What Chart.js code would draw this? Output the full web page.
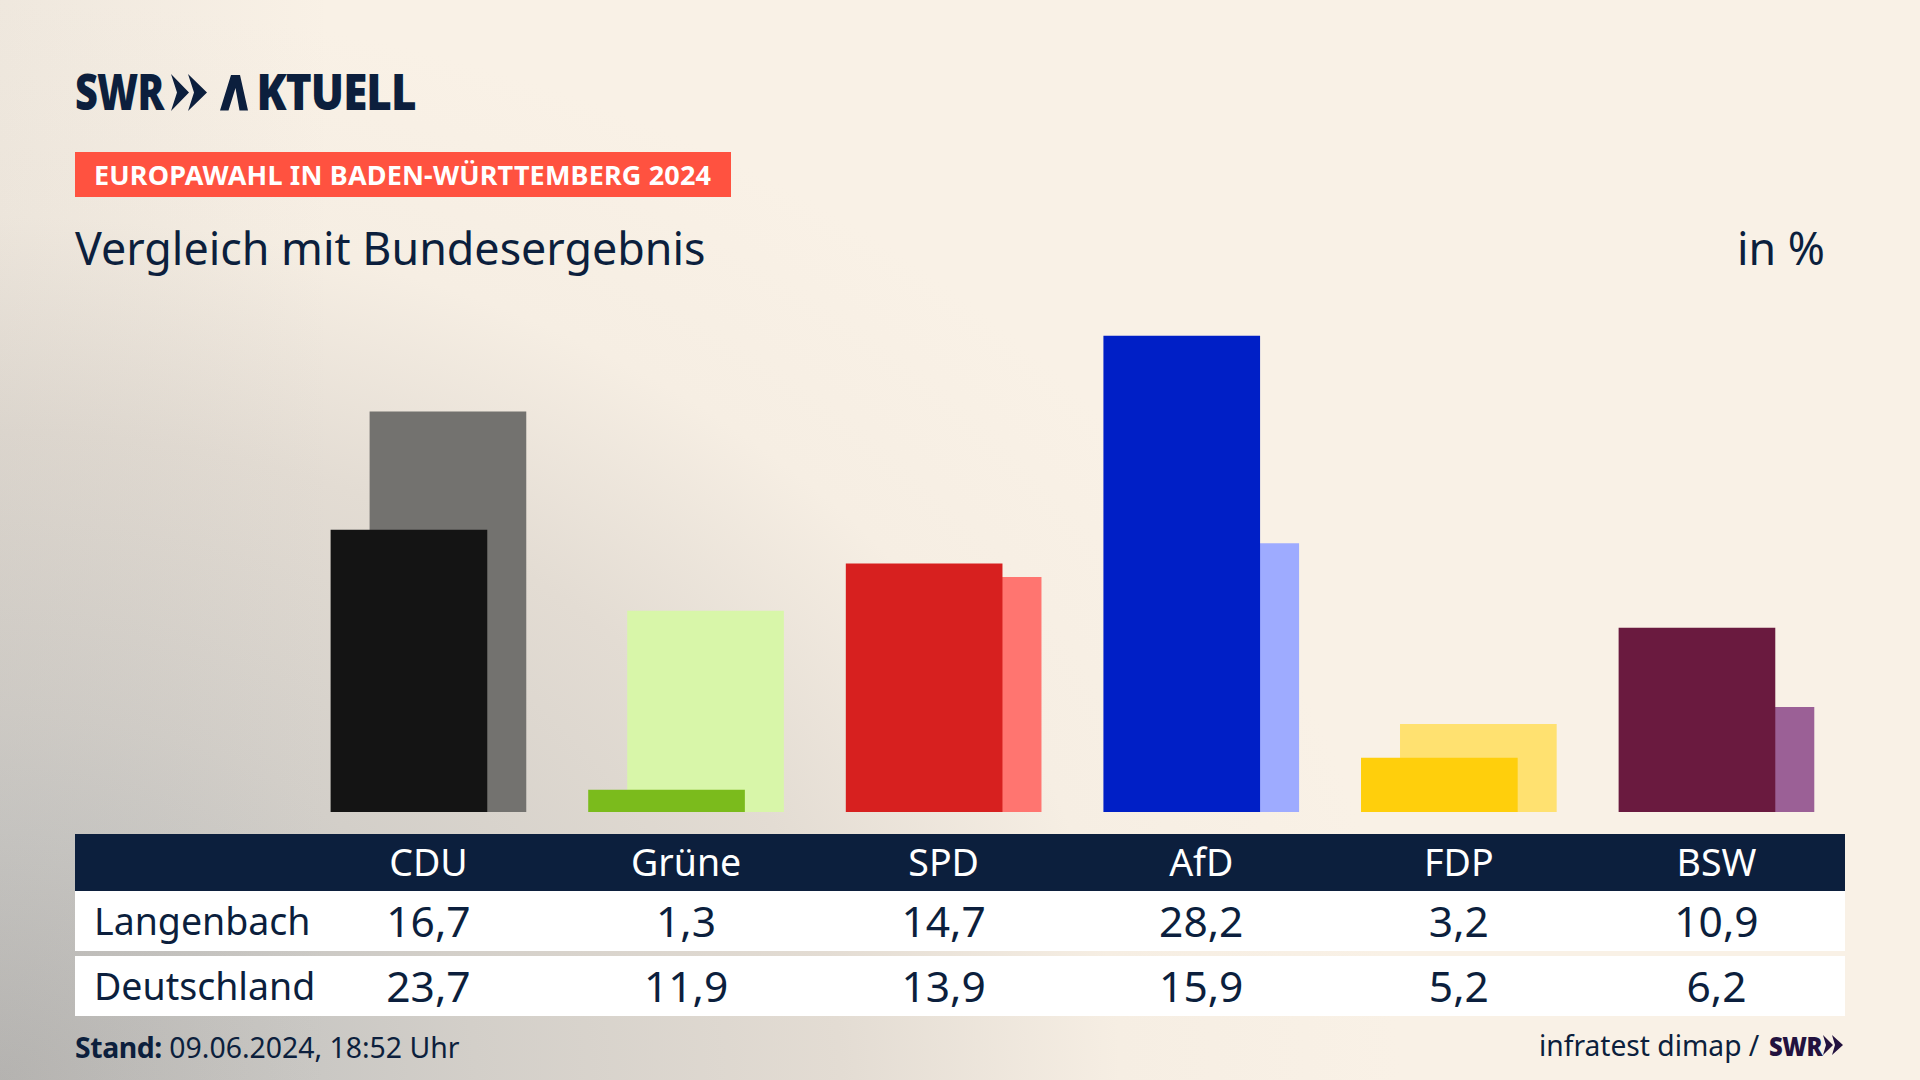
<!DOCTYPE html>
<html lang="de">
<head>
<meta charset="utf-8">
<title>Europawahl in Baden-Württemberg 2024</title>
<script src="https://cdn.jsdelivr.net/npm/chart.js@4"></script>
<style>
  html, body { margin: 0; padding: 0; }
  body {
    position: relative;
    width: 1920px;
    height: 1080px;
    overflow: hidden;
    color: #0c1f3d;
    font-family: "Noto Sans", sans-serif;
    background:
      linear-gradient(90deg, rgba(150,150,150,0.1) 0, rgba(150,150,150,0) 330px),
      radial-gradient(ellipse 1400px 1080px at 0 1080px, #b8b6b3 0%, #cac8c4 23%, #d3cfc9 34%, #e3dcd3 60%, #f6eee3 80%, #f9f1e6 100%);
    background-color: #f9f1e6;
  }
  .abs { position: absolute; white-space: nowrap; }
  #logo-swr, #logo-aktuell { font: 800 49px "Open Sans", sans-serif; transform-origin: left top; }
  #logo-swr { left: 75px; top: 58px; transform: scaleX(0.81); letter-spacing: -1px; }
  #logo-aktuell { left: 220px; top: 58px; transform: scaleX(0.897); letter-spacing: -1px; }
  #logo-a { color: transparent; margin-right: 6px; }
  #tag { left: 75px; top: 152px; width: 656px; height: 45px; background: #ff5240; }
  #tag span { position: absolute; left: 19px; top: 5px; font: 700 27px/36px "Noto Sans", sans-serif; color: #fff; letter-spacing: 0.16px; }
  #title { left: 75px; top: 218px; font-size: 44.8px; line-height: 60px; }
  #unit { right: 95px; top: 218px; font-size: 44.7px; line-height: 60px; }
  #chart-box { position: absolute; left: 75px; top: 300px; width: 1770px; height: 512px; }
  #table { position: absolute; left: 75px; top: 834px; width: 1770px; }
  .row { display: grid; grid-template-columns: 224.7px repeat(6, 257.6px); background: #fff; }
  .row div { text-align: center; }
  .row div:first-child { text-align: left; padding-left: 19px; font-size: 37.5px; }
  #head { background: #0c1f3d; color: #fff; height: 57px; line-height: 55px; font-size: 37.5px; }
  #row-l { height: 60px; line-height: 60px; font-size: 42.5px; }
  #row-d { height: 60px; line-height: 60px; font-size: 42.5px; margin-top: 5px; }
  #stand { left: 75px; top: 1027px; font-size: 28.4px; line-height: 40px; }
  #stand b { letter-spacing: -0.4px; }
  #source { left: 1539px; top: 1025px; font-size: 28.2px; line-height: 40px; }
  #small-swr { left: 1769px; top: 1028px; font: 800 27px/36px "Open Sans", sans-serif; color: #23123f; transform-origin: left top; transform: scaleX(0.88); letter-spacing: -0.5px; }
</style>
</head>
<body>
<div class="abs" id="logo-swr">SWR</div>
<svg class="abs" style="left:171px;top:74px" width="38" height="38" viewBox="0 0 38 38" fill="#0c1f3d">
  <polygon points="0,0 18,18.5 0,37 6,18.5"/>
  <polygon points="17,0 36,18.5 17,37 23,18.5"/>
</svg>
<div class="abs" id="logo-aktuell"><span id="logo-a">A</span>KTUELL</div>
<svg class="abs" style="left:220px;top:75px" width="28" height="36" viewBox="0 0 28 36" fill="#0c1f3d">
  <polygon points="0,35.5 11,0 20,0 28,35.5 19.5,35.5 15.5,13 8.5,35.5"/>
</svg>
<div class="abs" id="tag"><span>EUROPAWAHL IN BADEN-WÜRTTEMBERG 2024</span></div>
<div class="abs" id="title">Vergleich mit Bundesergebnis</div>
<div class="abs" id="unit">in %</div>
<div id="chart-box"><canvas id="chart" width="1770" height="512"></canvas></div>
<div id="table">
  <div class="row" id="head"></div>
  <div class="row" id="row-l"></div>
  <div class="row" id="row-d"></div>
</div>
<div class="abs" id="stand"><b>Stand:</b> 09.06.2024, 18:52 Uhr</div>
<div class="abs" id="source">infratest dimap /</div>
<div class="abs" id="small-swr">SWR</div>
<svg class="abs" style="left:1823px;top:1035px" width="20" height="20" viewBox="0 0 20 20" fill="#23123f">
  <polygon points="0,0 10,10 0,20 3,10"/>
  <polygon points="9,0 20,10 9,20 12,10"/>
</svg>

<script>
const PARTIES = ["CDU", "Grüne", "SPD", "AfD", "FDP", "BSW"];
const LANGENBACH = [16.7, 1.3, 14.7, 28.2, 3.2, 10.9];
const DEUTSCHLAND = [23.7, 11.9, 13.9, 15.9, 5.2, 6.2];

const COLORS_LANGENBACH = ["#141414", "#7bbb1c", "#d7201f", "#001fc6", "#ffcf0c", "#6a1a3f"];
const COLORS_DEUTSCHLAND = ["#73726f", "#d8f6a9", "#ff7570", "#9eabff", "#ffe170", "#9b6096"];

// the two bars of a party overlap, so x is a linear scale in party units
const BAR_SHIFT = 0.0757;

function formatValue(v) {
  return v.toFixed(1).replace(".", ",");
}

function fillRow(id, label, cells) {
  document.getElementById(id).innerHTML =
    `<div>${label}</div>` + cells.map((c) => `<div>${c}</div>`).join("");
}

function fillTable() {
  fillRow("head", "", PARTIES);
  fillRow("row-l", "Langenbach", LANGENBACH.map(formatValue));
  fillRow("row-d", "Deutschland", DEUTSCHLAND.map(formatValue));
}

function drawChart() {
  new Chart(document.getElementById("chart"), {
    type: "bar",
    data: {
      datasets: [
        {
          label: "Langenbach",
          data: LANGENBACH.map((v, i) => ({ x: i - BAR_SHIFT, y: v })),
          backgroundColor: COLORS_LANGENBACH,
        },
        {
          label: "Deutschland",
          data: DEUTSCHLAND.map((v, i) => ({ x: i + BAR_SHIFT, y: v })),
          backgroundColor: COLORS_DEUTSCHLAND,
        },
      ],
    },
    options: {
      responsive: false,
      animation: false,
      grouped: false,
      barThickness: 156,
      layout: { padding: 0 },
      scales: {
        x: { type: "linear", display: false, offset: false, min: -1.372, max: 5.499 },
        y: { display: false, min: 0, max: 30.33 },
      },
      plugins: {
        legend: { display: false },
        tooltip: { enabled: false },
        title: { display: false },
      },
    },
  });
}

fillTable();
drawChart();
</script>
</body>
</html>
